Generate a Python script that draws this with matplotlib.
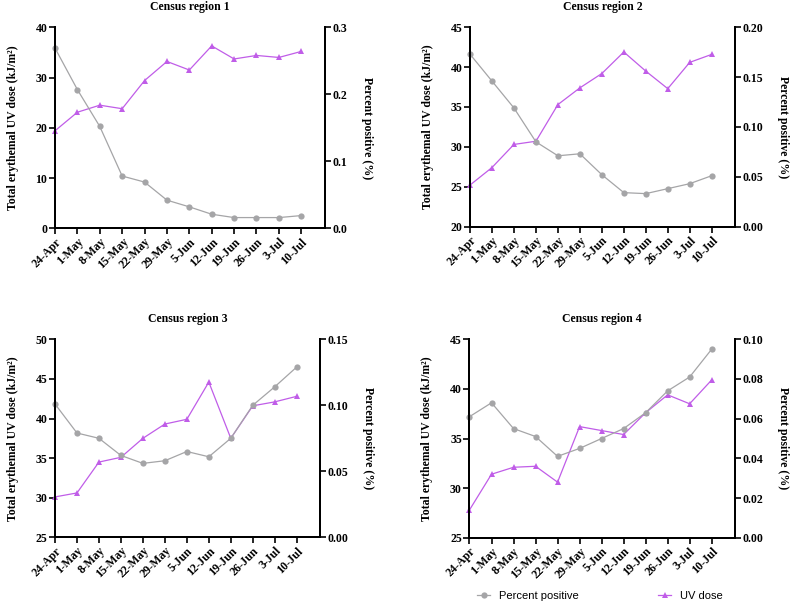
import matplotlib
matplotlib.use("Agg")
import matplotlib.pyplot as plt
from matplotlib.lines import Line2D

weeks = ["24-Apr", "1-May", "8-May", "15-May", "22-May", "29-May",
         "5-Jun", "12-Jun", "19-Jun", "26-Jun", "3-Jul", "10-Jul"]

titles = ["Census region 1", "Census region 2", "Census region 3", "Census region 4"]

uv_r1 = [19.4, 23.1, 24.5, 23.8, 29.4, 33.2, 31.5, 36.3, 33.7, 34.4, 34.0, 35.2]
uv_r2 = [25.2, 27.4, 30.3, 30.7, 35.3, 37.4, 39.2, 41.9, 39.5, 37.3, 40.6, 41.6]
uv_r3 = [30.1, 30.6, 34.5, 35.1, 37.5, 39.3, 39.9, 44.6, 37.5, 41.6, 42.1, 42.8]
uv_r4 = [27.8, 31.4, 32.1, 32.2, 30.6, 36.2, 35.8, 35.4, 37.6, 39.4, 38.5, 40.9]

pp_r1 = [0.269, 0.207, 0.152, 0.078, 0.069, 0.042, 0.032, 0.021, 0.016, 0.016, 0.016, 0.019]
pp_r2 = [0.173, 0.146, 0.119, 0.085, 0.071, 0.073, 0.052, 0.034, 0.033, 0.038, 0.043, 0.051]
pp_r3 = [0.101, 0.079, 0.075, 0.062, 0.056, 0.058, 0.065, 0.061, 0.075, 0.100, 0.114, 0.129]
pp_r4 = [0.061, 0.068, 0.055, 0.051, 0.041, 0.045, 0.050, 0.055, 0.063, 0.074, 0.081, 0.095]

uv_all = [uv_r1, uv_r2, uv_r3, uv_r4]
pp_all = [pp_r1, pp_r2, pp_r3, pp_r4]

left_lims = [(0, 40), (20, 45), (25, 50), (25, 45)]
left_ticks = [[0, 10, 20, 30, 40], [20, 25, 30, 35, 40, 45],
              [25, 30, 35, 40, 45, 50], [25, 30, 35, 40, 45]]
right_lims = [(0, 0.3), (0, 0.2), (0, 0.15), (0, 0.1)]
right_ticks = [[0.0, 0.1, 0.2, 0.3], [0.0, 0.05, 0.10, 0.15, 0.20],
               [0.0, 0.05, 0.10, 0.15], [0.0, 0.02, 0.04, 0.06, 0.08, 0.10]]
right_fmt = ["{:.1f}", "{:.2f}", "{:.2f}", "{:.2f}"]

GRAY = "#a5a5a7"
PURPLE = "#c05de8"
SERIF = ["Liberation Serif", "DejaVu Serif"]
SANS = ["Liberation Sans", "DejaVu Sans"]

W, H = 790, 604
boxes = [(55, 325, 27.3, 228.3), (470, 735, 27.3, 226.5),
         (55, 320, 339.3, 537.3), (469.5, 735, 339.3, 537.7)]

fig = plt.figure(figsize=(W / 100, H / 100), dpi=100)
x = list(range(len(weeks)))

for i in range(4):
    l, r, t, b = boxes[i]
    ax = fig.add_axes([l / W, 1 - b / H, (r - l) / W, (b - t) / H])
    ax2 = ax.twinx()
    ax.plot(x, uv_all[i], color=PURPLE, lw=0.9, marker="^", ms=4.5,
            markeredgewidth=0, clip_on=False)
    ax2.plot(x, pp_all[i], color=GRAY, lw=0.9, marker="o", ms=4.5,
             markeredgewidth=0, clip_on=False)
    ax.set_xlim(0, 12.06)
    ax.set_ylim(*left_lims[i])
    ax2.set_ylim(*right_lims[i])
    ax.set_yticks(left_ticks[i])
    ax.set_yticklabels([str(v) for v in left_ticks[i]], family=SERIF,
                       fontweight="bold", fontsize=8.5)
    ax2.set_yticks(right_ticks[i])
    ax2.set_yticklabels([right_fmt[i].format(v) for v in right_ticks[i]],
                        family=SERIF, fontweight="bold", fontsize=8.5)
    ax.set_xticks(x)
    ax.set_xticklabels(weeks, rotation=45, ha="right", rotation_mode="anchor",
                       family=SERIF, fontweight="bold", fontsize=8.5)
    for a in (ax, ax2):
        a.spines["top"].set_visible(False)
        for s in ("left", "right", "bottom"):
            a.spines[s].set_linewidth(1.4)
        a.tick_params(width=1.2, length=4, pad=1.5)
    ax.set_ylabel("Total erythemal UV dose (kJ/m²)", family=SERIF,
                  fontweight="bold", fontsize=8.5, labelpad=12)
    ax2.set_ylabel("Percent positive (%)", family=SERIF, fontweight="bold",
                   fontsize=8.5, rotation=270, labelpad=18)
    ax.set_title(titles[i], family=SERIF, fontweight="bold", fontsize=8.5, pad=12.5)

handles = [Line2D([], [], color=GRAY, lw=0.9, marker="o", ms=4.5, markeredgewidth=0),
           Line2D([], [], color=PURPLE, lw=0.9, marker="^", ms=4.5, markeredgewidth=0)]
fig.legend(handles, ["Percent positive", "UV dose"], loc="center",
           bbox_to_anchor=(600 / W, 1 - 596 / H), ncol=2, frameon=False,
           prop={"family": SANS, "size": 8}, handlelength=1.2,
           columnspacing=7.1, handletextpad=0.8)

fig.savefig("out.png", dpi=100)
